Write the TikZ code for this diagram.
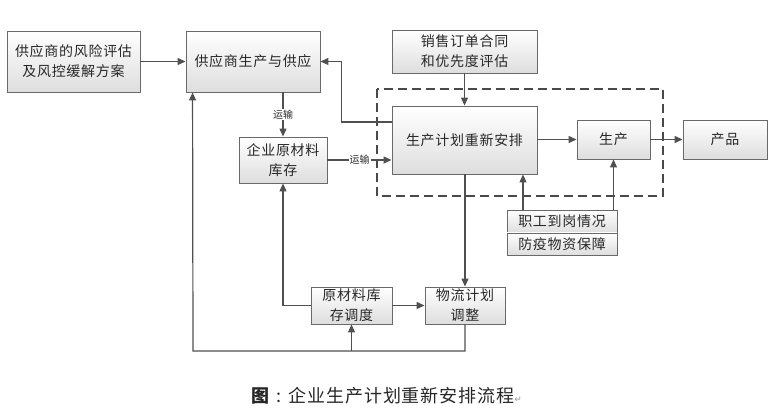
\documentclass[tikz,border=0pt]{standalone}
\usepackage{fontspec}
\usetikzlibrary{arrows.meta,positioning,calc,shadows}
\setmainfont{Noto Sans CJK SC}
\newfontfamily\cjk[LetterSpace=5]{Noto Sans CJK SC}
\newfontfamily\symfont{DejaVu Sans}
\definecolor{linegray}{RGB}{80,80,80}
\definecolor{boxedge}{RGB}{105,105,105}
\definecolor{boxtext}{RGB}{40,40,40}
\tikzset{
  box/.style={draw=boxedge,line width=0.9pt,top color=white,bottom color=black!13,
    align=center,inner sep=2pt,text=boxtext,font=\cjk\fontsize{14}{20}\selectfont,
    drop shadow={opacity=0.2,shadow xshift=1.2pt,shadow yshift=-1.2pt}},
  arr/.style={draw=linegray,line width=1.2pt,-{Triangle[length=8pt,width=7pt]}},
  lbl/.style={font=\fontsize{10}{12}\selectfont,text=boxtext,fill=white,inner sep=1pt},
}

\begin{document}
\begin{tikzpicture}[x=1pt,y=-1pt]
\useasboundingbox (0,0) rectangle (770,411);
% boxes
\node[box,minimum width=133pt,minimum height=61pt] (risk) at (73.5,61.5)
  {供应商的风险评估\\及风控缓解方案};
\node[box,minimum width=134pt,minimum height=61pt] (supplier) at (253,61.5)
  {供应商生产与供应};
\node[box,minimum width=88pt,minimum height=46pt] (stock) at (283,160)
  {企业原材料\\库存};
\node[box,minimum width=145pt,minimum height=43pt] (sales) at (464.5,51.5)
  {销售订单合同\\和优先度评估};
\node[box,minimum width=145pt,minimum height=68pt] (replan) at (464.5,140)
  {生产计划重新安排};
\node[box,minimum width=73pt,minimum height=39pt] (prod) at (613.5,139.5) {生产};
\node[box,minimum width=84pt,minimum height=39pt] (output) at (725,139.5) {产品};
\node[box,minimum width=110pt,minimum height=23pt] (staff) at (562,221.5) {职工到岗情况};
\node[box,minimum width=110pt,minimum height=22pt] (epi) at (562,244) {防疫物资保障};
\node[box,minimum width=81pt,minimum height=37pt] (rawdisp) at (351.5,305.5)
  {原材料库\\存调度};
\node[box,minimum width=80pt,minimum height=37pt] (logis) at (465,305.5)
  {物流计划\\调整};
% dashed frame
\draw[boxedge!70!black,line width=1.4pt,dash pattern=on 9pt off 5pt]
  (377,89) rectangle (663,196);
% connectors
\draw[arr] (risk) -- (supplier);
\draw[arr] ([yshift=18pt]replan.west) -- ++(-50,0) |- (supplier.east);
\draw[arr] (supplier.south -| stock) -- node[lbl]{运输} (stock.north);
\draw[arr] (stock.east) -- node[lbl]{运输} (stock -| replan.west);
\draw[arr] (sales) -- (replan);
\draw[arr] (replan.east |- prod) -- (prod.west);
\draw[arr] (prod) -- (output);
\draw[arr] ([xshift=-39pt]staff.north) -- ([xshift=-39pt]staff.north |- replan.south);
\draw[arr] (staff.north -| prod) -- (prod.south);
\draw[arr] (replan.south -| logis) -- (logis.north);
\draw[arr] (rawdisp.west) -| (stock.south);
\draw[arr] (rawdisp) -- (logis);
\coordinate (loopL) at (193,351);
\draw[arr] (logis.south) |- (loopL) -- ([xshift=7pt]supplier.south west);
\draw[arr] (rawdisp.south |- loopL) -- (rawdisp.south);
% caption
\node[font=\fontsize{18}{20}\selectfont,text=black!85,anchor=west] (caption) at (248,396)
  {\textbf{图}\kern7pt:\kern7pt{\cjk 企业生产计划重新安排流程}{\symfont\fontsize{9}{10}\selectfont\color{black!40}↵}};
\end{tikzpicture}
\end{document}
